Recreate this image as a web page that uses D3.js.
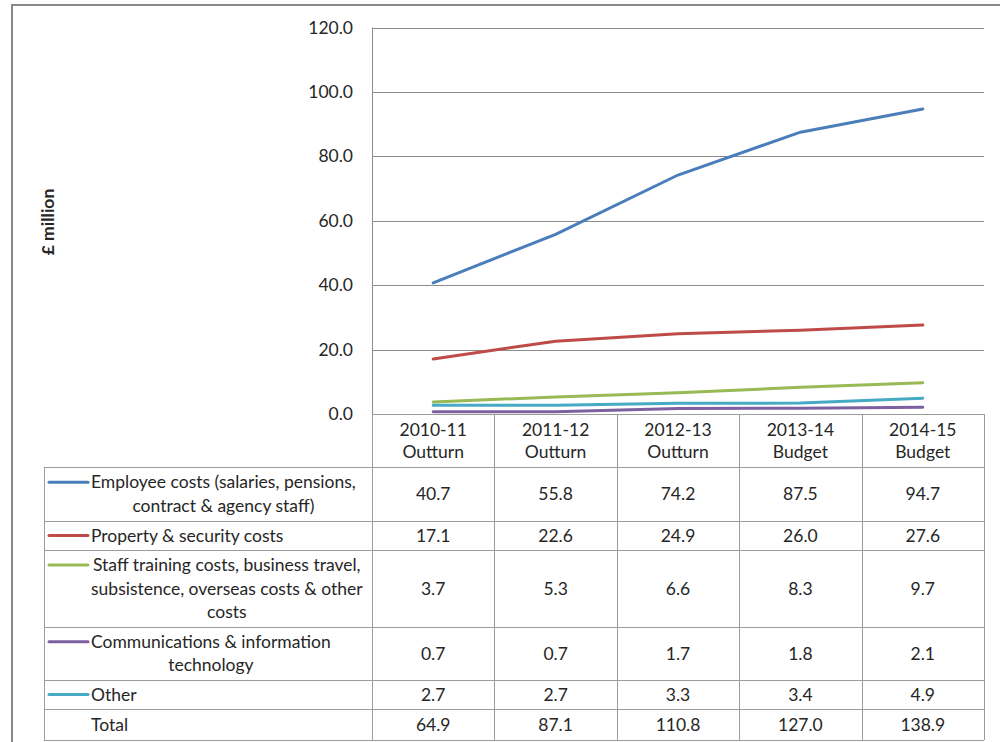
<!DOCTYPE html>
<html>
<head>
<meta charset="utf-8">
<script src="https://cdn.jsdelivr.net/npm/d3@7"></script>
<style>
  html, body { margin: 0; padding: 0; background: #fff; }
  svg { display: block; }
  text { font-family: Lato, "Open Sans", sans-serif; fill: #262626; }
</style>
</head>
<body>
<svg id="chart" width="1000" height="742"></svg>
<script>
// Spending by category, £ million
const years = [["2010-11", "Outturn"], ["2011-12", "Outturn"], ["2012-13", "Outturn"], ["2013-14", "Budget"], ["2014-15", "Budget"]];
const seriesNames = [
  ["Employee costs (salaries, pensions,", "contract & agency staff)"],
  ["Property & security costs"],
  ["Staff training costs, business travel,", "subsistence, overseas costs & other", "costs"],
  ["Communications & information", "technology"],
  ["Other"]
];
const employee = [40.7, 55.8, 74.2, 87.5, 94.7];
const property = [17.1, 22.6, 24.9, 26.0, 27.6];
const training = [3.7, 5.3, 6.6, 8.3, 9.7];
const comms = [0.7, 0.7, 1.7, 1.8, 2.1];
const other = [2.7, 2.7, 3.3, 3.4, 4.9];
const totals = [64.9, 87.1, 110.8, 127.0, 138.9];
const yTicks = [0, 20, 40, 60, 80, 100, 120];
const colors = ["#4a7ebb", "#be4b48", "#98b954", "#7d60a0", "#46aac5"];

const series = [employee, property, training, comms, other];

const svg = d3.select("#chart");
const plotLeft = 372, plotRight = 984, plotTop = 27.5, plotBottom = 414;
const tableLeft = 44;
const rowEdges = [467, 521, 550, 627, 680, 709, 740];
const lineHeight = 23.5;
const fontSize = 17.5;
const gridColor = "#8c8c8c";
const tableColor = "#9c9c9c";

const x = d3.scaleBand().domain(d3.range(years.length)).range([plotLeft, plotRight]);
const y = d3.scaleLinear().domain([0, 120]).range([plotBottom, plotTop]);

// outer frame
svg.append("rect").attr("x", 12).attr("y", 5).attr("width", 1000).attr("height", 800)
  .attr("fill", "none").attr("stroke", "#888").attr("stroke-width", 2);

// gridlines
svg.append("g").selectAll("line").data(yTicks.filter(d => d > 0)).join("line")
  .attr("x1", plotLeft).attr("x2", plotRight)
  .attr("y1", d => Math.round(y(d)) + 0.5).attr("y2", d => Math.round(y(d)) + 0.5)
  .attr("stroke", gridColor).attr("stroke-width", 1);

// y axis tick labels
const yAxis = d3.axisLeft(y).tickValues(yTicks).tickFormat(d3.format(".1f")).tickSize(0).tickPadding(19);
const gy = svg.append("g").attr("transform", `translate(${plotLeft},0)`).call(yAxis);
gy.select(".domain").remove();
gy.selectAll("text").attr("font-size", 17.5).attr("font-family", "Lato, sans-serif").attr("fill", "#262626");

// vertical axis line
svg.append("line").attr("x1", plotLeft + 0.5).attr("x2", plotLeft + 0.5)
  .attr("y1", plotTop).attr("y2", plotBottom).attr("stroke", gridColor);

// axis title
svg.append("text").attr("transform", "translate(54,222) rotate(-90)")
  .attr("text-anchor", "middle").attr("font-size", 17.5).attr("font-weight", "bold")
  .text("£ million");

// series lines
const line = d3.line().x((d, i) => x(i) + x.bandwidth() / 2).y(d => y(d));
svg.append("g").selectAll("path").data(series).join("path")
  .attr("d", d => line(d)).attr("fill", "none")
  .attr("stroke", (d, i) => colors[i]).attr("stroke-width", 3).attr("stroke-linecap", "round");

// data table
const table = svg.append("g");
// horizontal rules
table.append("line").attr("x1", plotLeft).attr("x2", plotRight)
  .attr("y1", plotBottom + 0.5).attr("y2", plotBottom + 0.5).attr("stroke", tableColor);
table.selectAll("line.h").data(rowEdges).join("line").attr("class", "h")
  .attr("x1", tableLeft).attr("x2", plotRight)
  .attr("y1", d => d + 0.5).attr("y2", d => d + 0.5).attr("stroke", tableColor);
// vertical rules
const colEdges = d3.range(years.length + 1).map(i => i < years.length ? x(i) : plotRight);
table.selectAll("line.v").data(colEdges).join("line").attr("class", "v")
  .attr("x1", d => Math.round(d) + 0.5).attr("x2", d => Math.round(d) + 0.5)
  .attr("y1", plotBottom).attr("y2", rowEdges[rowEdges.length - 1]).attr("stroke", tableColor);
table.append("line").attr("x1", tableLeft + 0.5).attr("x2", tableLeft + 0.5)
  .attr("y1", rowEdges[0]).attr("y2", rowEdges[rowEdges.length - 1]).attr("stroke", tableColor);

// column headers
years.forEach((lines, i) => {
  const t = table.append("text").attr("text-anchor", "middle").attr("font-size", fontSize)
    .attr("x", x(i) + x.bandwidth() / 2);
  lines.forEach((s, k) => t.append("tspan").attr("x", x(i) + x.bandwidth() / 2)
    .attr("y", 436 + k * 22).text(s));
});

// row labels + legend keys + values
const rows = seriesNames.map((n, i) => ({ name: n, values: series[i], color: colors[i] }));
rows.push({ name: ["Total"], values: totals, color: null });

rows.forEach((r, ri) => {
  const top = rowEdges[ri], bottom = rowEdges[ri + 1];
  const mid = (top + bottom) / 2;
  const firstY = mid - (r.name.length - 1) * lineHeight / 2;
  if (r.color) {
    table.append("line").attr("x1", 49).attr("x2", 88).attr("y1", firstY).attr("y2", firstY)
      .attr("stroke", r.color).attr("stroke-width", 3).attr("stroke-linecap", "round");
  }
  const g = table.append("g");
  const texts = r.name.map((s, k) => g.append("text").attr("font-size", fontSize)
    .attr("y", firstY + k * lineHeight + 6).text(s));
  const widths = texts.map(t => t.node().getComputedTextLength());
  const maxW = d3.max(widths);
  texts.forEach((t, k) => t.attr("x", 91 + (maxW - widths[k]) / 2));

  r.values.forEach((v, i) => {
    table.append("text").attr("text-anchor", "middle").attr("font-size", fontSize)
      .attr("x", x(i) + x.bandwidth() / 2).attr("y", mid + 6).text(d3.format(".1f")(v));
  });
});
</script>
</body>
</html>
